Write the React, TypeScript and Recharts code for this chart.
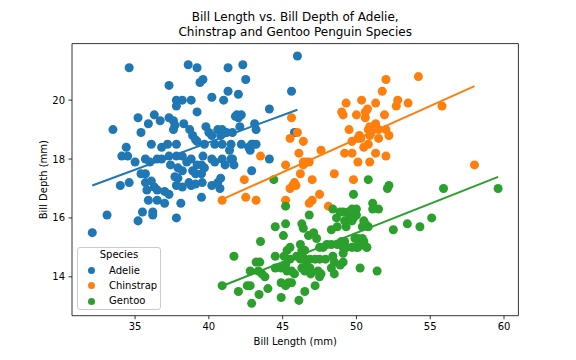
import { ScatterChart, Scatter, XAxis, YAxis, ZAxis, ReferenceArea } from "recharts";

const species = ["Adelie", "Chinstrap", "Gentoo"];
const colors = ["#1f77b4", "#ff7f0e", "#2ca02c"];
const xTicks = [35, 40, 45, 50, 55, 60];
const yTicks = [14, 16, 18, 20];
const xDomain = [30.725, 60.975];
const yDomain = [12.68, 21.92];

// [bill length, bill depth] in mm
const adelie = [
  [34.6, 21.1], [38.6, 21.2], [39.2, 21.1], [41.3, 21.1], [42.3, 21.2], [46.0, 21.5],
  [39.6, 20.7], [39.4, 20.6], [37.3, 20.5], [42.5, 20.7], [41.3, 20.3], [45.6, 20.3], [42.0, 20.2], [40.2, 20.1],
  [37.8, 20.0], [38.2, 20.0], [38.8, 20.0], [41.0, 20.0], [37.8, 19.8], [44.1, 19.7], [39.2, 19.6],
  [35.2, 19.4], [36.3, 19.5], [36.7, 19.3], [37.3, 19.4], [37.6, 19.3], [37.7, 19.15], [37.6, 19.0], [35.9, 19.2],
  [33.5, 19.0], [35.4, 18.9], [38.3, 19.2], [38.7, 19.0], [38.9, 18.8], [39.1, 18.65], [39.2, 18.6],
  [39.8, 19.1], [40.0, 18.9], [40.2, 18.8], [40.6, 19.0], [40.8, 18.8], [40.9, 19.0], [41.2, 18.9], [41.6, 18.9],
  [42.1, 19.1], [42.0, 19.4], [41.9, 19.5], [42.2, 19.5], [41.8, 19.45], [43.1, 19.2], [43.2, 19.0], [45.8, 18.9],
  [42.9, 18.5], [42.7, 18.4], [42.2, 18.5], [41.5, 18.5], [41.4, 18.3], [40.9, 18.5], [40.4, 18.5], [39.7, 18.5],
  [42.8, 18.3], [43.0, 18.5], [43.2, 18.5],
  [34.4, 18.4], [34.1, 18.1], [34.5, 18.1], [35.0, 17.9], [35.7, 18.0], [36.0, 17.9], [36.5, 18.0], [36.8, 18.0],
  [36.1, 18.5], [36.8, 18.4], [37.2, 18.5], [37.8, 18.5], [37.3, 18.1], [37.8, 18.1], [38.2, 18.1], [38.5, 17.9],
  [38.8, 18.0], [39.2, 17.8], [39.6, 18.1], [39.5, 17.8], [39.7, 17.7], [40.2, 18.0], [40.4, 17.9], [40.9, 18.0],
  [41.1, 17.8], [41.6, 18.0], [41.7, 17.8], [41.5, 18.0], [44.1, 18.0], [42.9, 17.6],
  [35.4, 17.5], [35.7, 17.5], [37.4, 17.8], [37.9, 17.7], [38.2, 17.6], [38.9, 17.6], [39.1, 17.5], [39.5, 17.5],
  [40.8, 17.35], [37.9, 17.35],
  [34.0, 17.1], [34.6, 17.2], [35.7, 17.2], [35.8, 16.95], [36.1, 17.25], [36.3, 17.05], [36.5, 16.95], [37.0, 16.9],
  [37.3, 16.8], [37.7, 17.4], [37.8, 17.1], [38.2, 17.05], [38.65, 17.2], [38.8, 17.1], [39.1, 17.15], [39.55, 17.2],
  [40.2, 17.1], [40.6, 17.2], [40.75, 17.0], [35.9, 16.6], [36.5, 16.6], [37.0, 16.5], [38.1, 16.5], [39.5, 16.7],
  [35.5, 16.2], [36.2, 16.2], [33.1, 16.1], [32.1, 15.5], [35.2, 15.9], [36.2, 16.1], [37.8, 16.0],
];

const chinstrap = [
  [40.9, 16.6], [42.4, 17.3], [42.5, 16.7], [43.2, 16.6], [43.5, 18.1], [45.2, 17.8], [45.2, 16.6], [45.5, 17.0],
  [45.7, 17.1], [45.9, 17.1], [45.8, 17.2], [45.5, 18.7], [45.6, 19.4], [46.0, 18.9], [46.1, 18.2], [46.4, 18.6],
  [46.2, 17.5], [46.4, 17.8], [46.6, 17.9], [46.8, 17.9], [46.4, 17.9], [46.8, 16.5], [47.0, 16.6], [47.0, 17.3],
  [47.5, 16.8], [47.6, 18.3], [48.1, 16.4], [48.5, 17.5], [49.0, 19.6], [49.1, 19.5], [49.3, 19.9], [49.2, 18.2],
  [49.5, 19.0], [49.7, 18.6], [49.7, 18.2], [49.8, 17.3], [50.0, 19.5], [50.1, 18.7], [50.1, 17.9], [50.2, 18.8],
  [50.3, 18.7], [50.35, 20.0], [50.5, 18.4], [50.6, 19.4], [50.6, 19.6], [50.75, 19.7], [50.8, 19.0], [50.8, 18.5],
  [50.9, 19.1], [50.9, 18.8], [50.9, 17.9], [51.0, 18.9], [51.3, 19.2], [51.3, 19.9], [51.3, 18.2], [51.5, 18.7],
  [51.5, 19.0], [51.75, 20.3], [51.9, 19.5], [52.0, 20.7], [52.0, 19.0], [52.0, 18.1], [52.2, 18.8], [52.7, 19.8],
  [52.8, 20.0], [53.5, 19.9], [54.2, 20.8], [55.8, 19.8], [58.0, 17.8],
];

const gentoo = [
  [40.9, 13.7], [41.7, 14.7], [42.0, 13.5], [42.6, 13.7], [42.8, 13.7], [42.8, 14.2], [42.9, 13.1], [43.2, 14.5],
  [43.35, 14.2], [43.4, 13.4], [43.45, 14.5], [43.5, 15.2], [43.6, 14.1], [43.8, 14.0], [44.0, 13.6], [44.5, 14.7],
  [44.5, 14.3], [44.5, 15.7], [44.9, 14.3], [44.9, 13.8], [44.9, 13.3], [45.05, 15.4], [45.1, 14.7], [45.2, 16.4],
  [45.2, 15.8], [45.2, 14.4], [45.2, 13.7], [45.3, 14.9], [45.3, 14.2], [45.4, 13.8], [45.5, 15.0], [45.5, 14.6],
  [45.6, 14.2], [45.6, 13.8], [45.8, 14.1], [45.95, 14.7], [46.1, 13.2], [46.2, 15.1], [46.2, 14.6], [46.3, 15.8],
  [46.3, 14.9], [46.3, 14.3], [46.4, 15.65], [46.4, 14.65], [46.5, 14.9], [46.5, 14.2], [46.5, 13.5], [46.6, 14.5],
  [46.75, 15.4], [46.8, 16.1], [46.85, 14.6], [46.85, 14.3], [46.9, 14.1], [47.1, 15.5], [47.2, 14.6], [47.2, 13.7],
  [47.3, 15.3], [47.4, 14.2], [47.5, 15.0], [47.5, 14.6], [47.5, 14.0], [47.6, 14.1], [47.75, 15.0], [47.9, 14.6],
  [48.0, 15.1], [48.3, 15.6], [48.3, 15.1], [48.3, 14.3], [48.4, 16.3], [48.4, 14.7], [48.5, 14.5], [48.5, 14.1],
  [48.65, 16.0], [48.7, 15.7], [48.7, 15.1], [48.9, 16.2], [48.9, 14.4], [49.0, 15.2], [49.1, 16.2], [49.1, 15.0],
  [49.1, 14.8], [49.1, 14.5], [49.2, 15.9], [49.2, 15.2], [49.3, 15.7], [49.35, 15.0], [49.45, 16.2], [49.5, 16.1],
  [49.55, 16.1], [49.7, 16.3], [49.7, 16.0], [49.7, 15.0], [49.7, 15.9], [49.8, 16.0], [49.8, 16.8], [49.9, 15.3],
  [50.0, 16.3], [50.0, 16.1], [50.0, 15.0], [50.1, 15.3], [50.1, 15.0], [50.25, 14.3], [50.4, 15.7], [50.4, 15.1],
  [50.4, 15.3], [50.5, 15.9], [50.5, 15.2], [50.6, 15.8], [50.7, 15.0], [50.8, 15.7], [50.8, 17.3], [51.1, 16.5],
  [51.1, 16.3], [51.4, 14.2], [51.5, 16.3], [52.1, 17.0], [52.2, 17.1], [52.5, 15.6], [53.45, 15.8], [54.3, 15.7],
  [55.1, 16.0], [55.9, 17.0], [59.6, 17.0], [44.4, 17.3], [50.7, 15.0],
];

const toPoints = (rows: number[][]) => rows.map(([x, y]) => ({ x, y }));
const series = [adelie, chinstrap, gentoo].map(toPoints);

const font = "'DejaVu Sans', sans-serif";
const noDot = () => <g />;

export default function App() {
  return (
    <div
      style={{
        position: "absolute",
        left: 0,
        top: 0,
        width: 576,
        height: 360,
        background: "#fff",
        fontFamily: font,
        color: "#000",
      }}
    >
      <div
        style={{
          position: "absolute",
          left: 72,
          top: 10,
          width: 446.4,
          textAlign: "center",
          fontSize: 12,
          lineHeight: "15px",
        }}
      >
        Bill Length vs. Bill Depth of Adelie,
        <br />
        Chinstrap and Gentoo Penguin Species
      </div>
      <ScatterChart width={576} height={360} margin={{ top: 43.6, right: 57.6, bottom: 0, left: 0 }}>
        <XAxis
          type="number"
          dataKey="x"
          domain={xDomain}
          ticks={xTicks}
          allowDataOverflow
          height={44.3}
          tickSize={3.5}
          tickMargin={3.5}
          axisLine={false}
          tickLine={{ stroke: "#000", strokeWidth: 0.8 }}
          tick={{ fill: "#000", fontSize: 10, fontFamily: font }}
          label={{
            value: "Bill Length (mm)",
            position: "insideBottom",
            offset: 15,
            fill: "#000",
            fontSize: 10,
            fontFamily: font,
          }}
        />
        <YAxis
          type="number"
          dataKey="y"
          domain={yDomain}
          ticks={yTicks}
          allowDataOverflow
          width={72}
          tickSize={3.5}
          tickMargin={3.5}
          axisLine={false}
          tickLine={{ stroke: "#000", strokeWidth: 0.8 }}
          tick={{ fill: "#000", fontSize: 10, fontFamily: font }}
          label={{
            value: "Bill Depth (mm)",
            angle: -90,
            position: "insideLeft",
            offset: 43,
            fill: "#000",
            fontSize: 10,
            fontFamily: font,
            style: { textAnchor: "middle" },
          }}
        />
        <ZAxis range={[38, 38]} />
        <ReferenceArea
          x1={xDomain[0]}
          x2={xDomain[1]}
          y1={yDomain[0]}
          y2={yDomain[1]}
          fill="none"
          fillOpacity={0}
          stroke="#000"
          strokeWidth={0.8}
          strokeOpacity={1}
        />
        {series.map((pts, i) => (
          <Scatter
            key={species[i]}
            name={species[i]}
            data={pts}
            fill={colors[i]}
            isAnimationActive={false}
          />
        ))}
        {series.map((pts, i) => (
          <Scatter
            key={species[i] + "-fit"}
            data={pts}
            shape={noDot}
            line={{ stroke: colors[i], strokeWidth: 2 }}
            lineType="fitting"
            legendType="none"
            isAnimationActive={false}
          />
        ))}
      </ScatterChart>
      <div
        style={{
          position: "absolute",
          left: 77,
          top: 247,
          width: 84,
          height: 63,
          boxSizing: "border-box",
          border: "1px solid #cccccc",
          borderRadius: 3,
          background: "rgba(255,255,255,0.8)",
          fontSize: 10,
        }}
      >
        <div style={{ position: "absolute", left: 0, top: 1, width: "100%", textAlign: "center", lineHeight: "12px" }}>
          Species
        </div>
        {species.map((name, i) => (
          <div
            key={name}
            style={{ position: "absolute", left: 0, top: 16.7 + i * 15.2, width: "100%", height: 12, lineHeight: "12px" }}
          >
            <span
              style={{
                position: "absolute",
                left: 9.8,
                top: 2.5,
                width: 7,
                height: 7,
                borderRadius: "50%",
                background: colors[i],
              }}
            />
            <span style={{ position: "absolute", left: 31 }}>{name}</span>
          </div>
        ))}
      </div>
    </div>
  );
}
